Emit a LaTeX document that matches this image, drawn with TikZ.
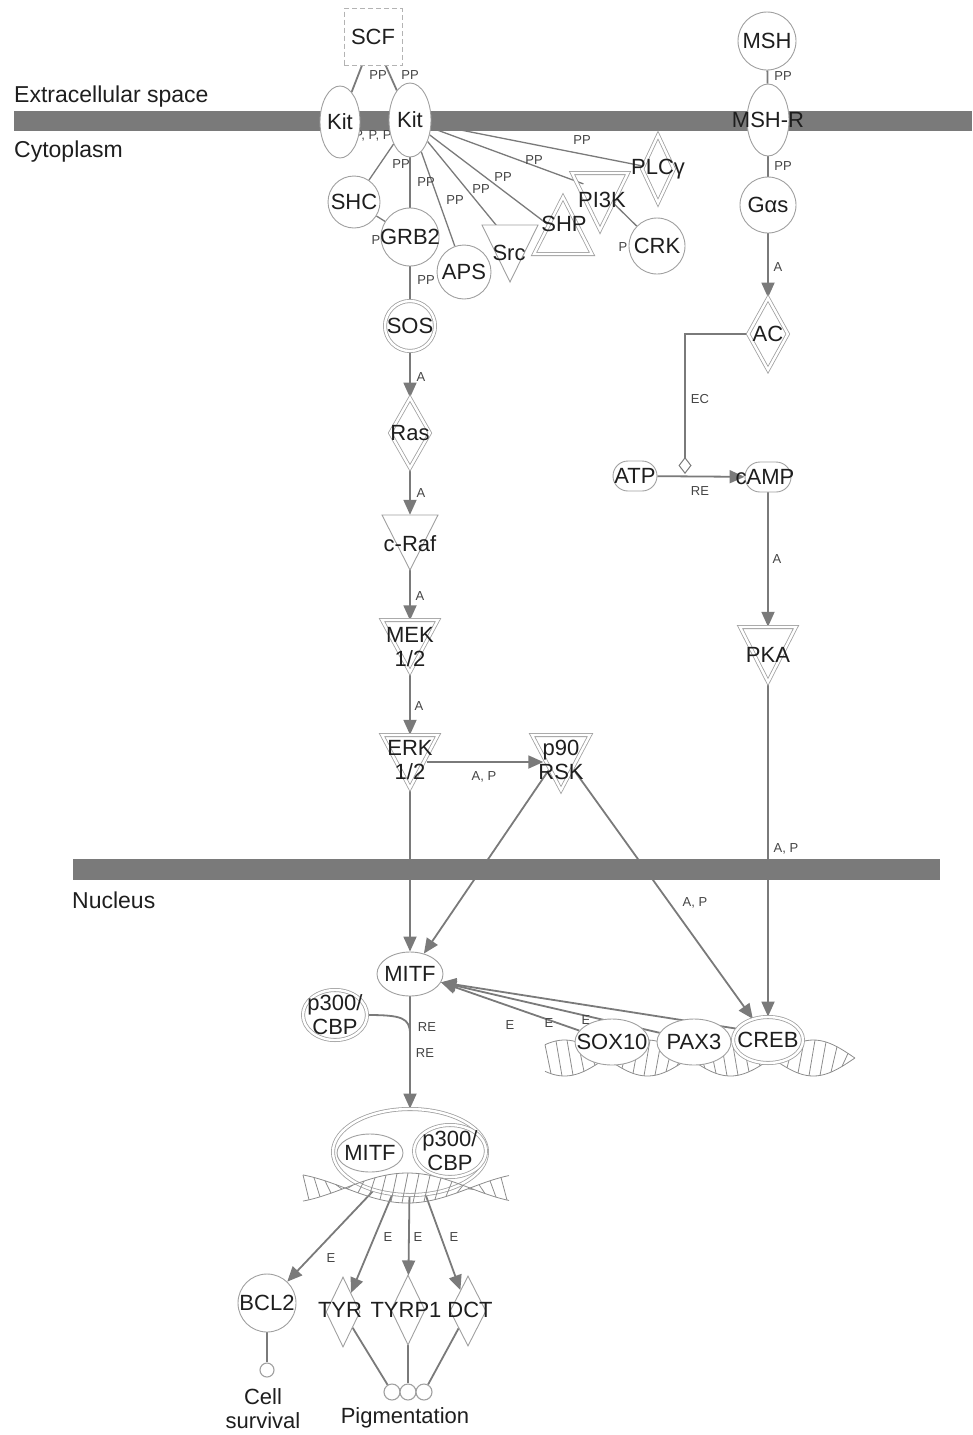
\documentclass[tikz,border=0pt]{standalone}
\usepackage{fontspec}
\setmainfont{Liberation Sans}
\usetikzlibrary{shapes.geometric,arrows.meta}
\definecolor{barc}{HTML}{7A7A7A}
\definecolor{edgec}{HTML}{7A7A7A}
\definecolor{outl}{HTML}{A0A0A0}
\definecolor{helc}{HTML}{8C8C8C}
\definecolor{txtc}{HTML}{1E1E1E}
\definecolor{labc}{HTML}{444444}
\pgfdeclarelayer{back}
\pgfdeclarelayer{edges}
\pgfsetlayers{back,edges,main}
\newcommand\dnahelix[7]{%
 \draw[hel] plot[domain=#1:#2,samples=90,smooth] (\x,{#3+#4*sin(#5*(\x-#6))});
 \draw[hel] plot[domain=#1:#2,samples=90,smooth] (\x,{#3-#4*sin(#5*(\x-#6))});
 \foreach \t in {#7}{\draw[hel] (\t,{#3+#4*sin(#5*(\t-#6))}) -- ({\t+6},{#3-#4*sin(#5*(\t+6-#6))});}
}
\tikzset{
 ntext/.style={font=\fontsize{22}{24}\selectfont, text=txtc, inner sep=0pt, align=center},
 lb/.style={label={[ntext]center:{#1}}},
 nd/.style={draw=outl, line width=0.9pt, fill=white, inner sep=0pt},
 circ/.style={nd, circle, minimum size=#1},
 ell/.style 2 args={nd, ellipse, minimum width=#1, minimum height=#2},
 dbl/.style={double=white, double distance=2.4pt, line width=0.8pt},
 inv/.style={draw=none, fill=none, inner sep=0pt, circle},
 conn/.style={draw=edgec, line width=1.8pt},
 fan/.style={draw=edgec, line width=1.3pt},
 act/.style={conn, -{Triangle[length=15pt,width=13pt]}},
 elab/.style={font=\fontsize{13}{14}\selectfont, text=labc, inner sep=0.5pt},
 reg/.style={font=\fontsize{23}{26}\selectfont, text=txtc, anchor=base west, inner sep=0pt},
 hel/.style={draw=helc, line width=0.8pt},
}
\begin{document}
\begin{tikzpicture}[x=1pt,y=-1pt]
\useasboundingbox (0,0) rectangle (972,1435);
\begin{pgfonlayer}{back}
 \fill[barc] (14,111) rectangle (972,131);
 \fill[barc] (73,859) rectangle (940,880);
\end{pgfonlayer}
\node[reg] (tex) at (14,102) {Extracellular space};
\node[reg] (tcy) at (14,157) {Cytoplasm};
\node[reg] (tnu) at (72,908) {Nucleus};

% ---------- upper left ----------
\node[nd, rectangle, draw=outl!80, dash pattern=on 5pt off 3pt, minimum width=58, minimum height=57, lb=SCF] (scf) at (373,37) {};
\node[ell={40}{72}, lb=Kit] (kitL) at (340,122) {};
\node[ell={42}{74}, lb=Kit] (kitR) at (410,120) {};
\node[circ=52, lb=SHC] (shc) at (354,202) {};
\node[circ=58, lb=GRB2] (grb2) at (410,237) {};
\node[circ=54, lb=APS] (aps) at (464,272) {};
\draw[nd] (482,225) -- (538,225) -- (510,282) -- cycle;
\node[inv, minimum size=35] (src) at (510,242) {};
\node[ntext] (tsrc) at (509,253) {Src};
\draw[nd,dbl,fill=none] (563,197) -- (592,254) -- (534,254) -- cycle;
\node[inv, minimum size=36] (shp) at (563,236) {};
\node[ntext] (tshp) at (564,224) {SHP};
\draw[nd,dbl,fill=none] (572,173) -- (628,173) -- (600,230) -- cycle;
\node[inv, minimum size=35] (pi3k) at (600,190) {};
\node[ntext] (tpi3k) at (602,200) {PI3K};
\node[nd, diamond, dbl, minimum width=32, minimum height=68, lb=PLCγ] (plcg) at (658,169) {};
\node[circ=56, lb=CRK] (crk) at (657,246) {};

% ---------- right column ----------
\node[circ=58, lb=MSH] (msh) at (767,41) {};
\node[ell={42}{72}, lb=MSH-R] (mshr) at (768,120) {};
\node[circ=56, lb=Gαs] (gas) at (768,205) {};
\node[nd, diamond, dbl, minimum width=40, minimum height=72, lb=AC] (ac) at (768,334) {};
\node[nd, rectangle, rounded corners=15pt, minimum width=44, minimum height=30, lb=ATP] (atp) at (635,476) {};
\node[nd, rectangle, rounded corners=15pt, minimum width=46, minimum height=30] (camp) at (768,477) {};
\node[ntext] (tcamp) at (765,477) {cAMP};
\draw[nd,dbl] (740,627) -- (796,627) -- (768,682) -- cycle;
\node[inv, minimum size=34] (pka) at (768,644) {};
\node[ntext] (tpka) at (768,655) {PKA};

% ---------- left column ----------
\node[circ=50, dbl, lb=SOS] (sos) at (410,326) {};
\node[nd, diamond, dbl, minimum width=40, minimum height=70, lb=Ras] (ras) at (410,433) {};
\draw[nd] (382,515) -- (438,515) -- (410,570) -- cycle;
\node[inv, minimum size=34] (craf) at (410,532) {};
\node[ntext] (tcraf) at (410,544) {c-Raf};
\draw[nd,dbl] (382,620) -- (438,620) -- (410,672) -- cycle;
\node[inv, minimum size=33] (mek) at (410,637) {};
\node[ntext] (tmek) at (410,647) {MEK\\1/2};
\draw[nd,dbl] (382,735) -- (438,735) -- (410,788) -- cycle;
\node[inv, minimum size=34] (erk) at (410,752) {};
\node[ntext] (terk) at (410,760) {ERK\\1/2};
\draw[nd,dbl] (532,735) -- (590,735) -- (561,790) -- cycle;
\node[inv, minimum size=35] (p90) at (561,752) {};
\node[ntext] (tp90) at (561,760) {p90\\RSK};

% ---------- nucleus ----------
\node[ell={66}{44}, lb=MITF] (mitf) at (410,974) {};
\node[ell={64}{50}, dbl, lb={p300/\\CBP}] (p300) at (335,1015) {};
\dnahelix{545}{855}{1058}{18}{2.17}{606}{545,556,...,849}
\node[ell={74}{46}, lb=SOX10] (sox10) at (612,1042) {};
\node[ell={74}{46}, lb=PAX3] (pax3) at (694,1042) {};
\node[ell={70}{46}, dbl, lb=CREB] (creb) at (768,1040) {};

\node[ell={154}{86}, dbl] (cplx) at (410,1152) {};
\dnahelix{303}{509}{1188}{15}{1.44}{345}{303,314,...,503}
\node[ell={66}{38}, lb=MITF] (cmitf) at (370,1153) {};
\node[ell={72}{52}, dbl, lb={p300/\\CBP}] (cp300) at (450,1151) {};

\node[circ=58, lb=BCL2] (bcl2) at (267,1303) {};
\node[nd, diamond, minimum width=34, minimum height=70] (tyr) at (343,1312) {};
\node[nd, diamond, minimum width=34, minimum height=70] (tyrp1) at (408,1310) {};
\node[nd, diamond, minimum width=36, minimum height=70] (dct) at (468,1311) {};
\node[ntext] (ttyr) at (340,1310) {TYR};
\node[ntext] (ttyrp1) at (406,1310) {TYRP1};
\node[ntext] (tdct) at (470,1310) {DCT};
\node[circ=14, line width=1.1pt] (survC) at (267,1370) {};
\node[circ=16, line width=1.1pt] (pig1) at (392,1392) {};
\node[circ=16, line width=1.1pt] (pig2) at (408,1392) {};
\node[circ=16, line width=1.1pt] (pig3) at (424,1392) {};
\node[ntext] (tcell) at (263,1409) {Cell\\survival};
\node[ntext] (tpig) at (405,1418) {Pigmentation};

% ---------- connectors ----------
\begin{pgfonlayer}{edges}
\draw[conn] (scf) -- (kitL);
\draw[conn] (scf) -- (kitR);
\draw[conn] (kitL) -- (kitR);
\foreach \n in {shc,grb2,aps,src,shp,pi3k,plcg} \draw[fan] (kitR) -- (\n);
\draw[fan] (shc) -- (grb2);
\draw[conn] (grb2) -- (sos);
\draw[fan] (pi3k) -- (crk);
\draw[conn] (msh) -- (mshr);
\draw[conn] (mshr) -- (gas);
\draw[act] (gas) -- (ac);
\coordinate (ecend) at (685,474);
\draw[conn, -{Diamond[length=17pt,width=13pt,fill=white,line width=1pt]}] (ac.west) -| (ecend);
\draw[act] (atp) -- (camp);
\draw[act] (camp) -- (pka);
\draw[act] (pka) -- (creb);
\draw[act] (sos) -- (ras);
\draw[act] (ras) -- (craf);
\draw[act] (craf) -- (mek);
\draw[act] (mek) -- (erk);
\draw[act] ([yshift=-10pt]erk.east) -- ([yshift=-10pt]p90.west);
\draw[act] (erk) -- (mitf);
\draw[act] (p90) -- (mitf);
\draw[act] (p90) -- (creb);
\draw[act] (mitf) -- (cplx);
\coordinate (rejoin) at (410,1034);
\draw[conn] (p300.east) .. controls (402,1015) and (410,1018) .. (rejoin);
\draw[act] (sox10) -- (mitf.-15);
\draw[act] (pax3.165) -- (mitf.-15);
\draw[act] (creb.160) -- (mitf.-15);
\draw[act] (cplx) -- (bcl2);
\draw[act] (cplx) -- (tyr);
\draw[act] (cplx) -- (tyrp1);
\draw[act] (cplx) -- (dct);
\draw[conn] (bcl2) -- (survC);
\draw[conn] (tyr) -- (pig1);
\draw[conn] (tyrp1) -- (pig2);
\draw[conn] (dct) -- (pig3);
% labels
\node[elab] (l1) at (378,75) {PP};
\node[elab] (l2) at (410,75) {PP};
\node[elab] (l3) at (373,136) {P, P, P};
\node[elab] (l4) at (401,164) {PP};
\node[elab] (l5) at (426,182) {PP};
\node[elab] (l6) at (455,200) {PP};
\node[elab] (l7) at (481,189) {PP};
\node[elab] (l8) at (503,177) {PP};
\node[elab] (l9) at (534,160) {PP};
\node[elab] (l10) at (582,140) {PP};
\node[elab] (l11) at (376,240) {P};
\node[elab] (l12) at (426,280) {PP};
\node[elab] (l13) at (623,247) {P};
\node[elab] (l14) at (783,76) {PP};
\node[elab] (l15) at (783,166) {PP};
\node[elab] (l16) at (778,267) {A};
\node[elab] (l17) at (700,399) {EC};
\node[elab] (l18) at (700,491) {RE};
\node[elab] (l19) at (777,559) {A};
\node[elab] (l20) at (786,849) {A, P};
\node[elab] (l21) at (421,377) {A};
\node[elab] (l22) at (421,493) {A};
\node[elab] (l23) at (420,596) {A};
\node[elab] (l24) at (419,706) {A};
\node[elab] (l25) at (484,777) {A, P};
\node[elab] (l26) at (695,903) {A, P};
\node[elab] (l27) at (427,1027) {RE};
\node[elab] (l28) at (425,1053) {RE};
\node[elab] (l29) at (510,1025) {E};
\node[elab] (l30) at (549,1023) {E};
\node[elab] (l31) at (586,1020) {E};
\node[elab] (l32) at (331,1258) {E};
\node[elab] (l33) at (388,1237) {E};
\node[elab] (l34) at (418,1237) {E};
\node[elab] (l35) at (454,1237) {E};
\end{pgfonlayer}
\end{tikzpicture}
\end{document}
